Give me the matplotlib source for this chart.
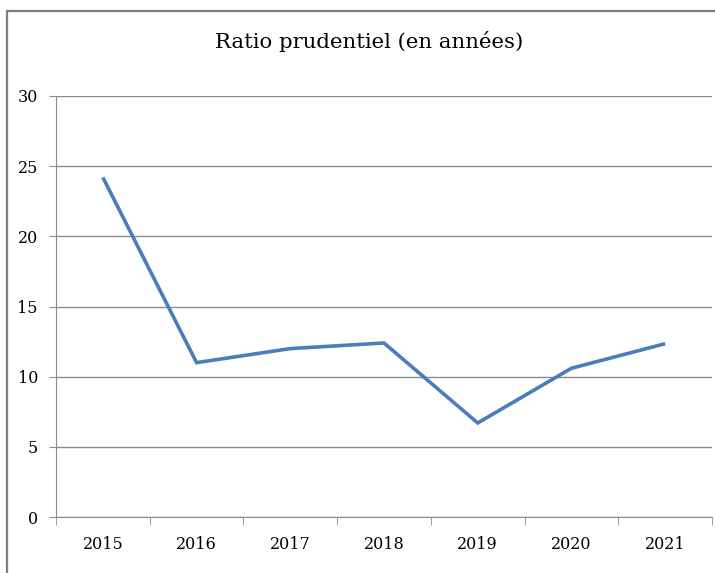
import matplotlib
matplotlib.use("Agg")
import matplotlib.pyplot as plt
from matplotlib.patches import Rectangle

annees = ['2015', '2016', '2017', '2018', '2019', '2020', '2021']
ratio = [24.2, 11.0, 12.0, 12.4, 6.7, 10.6, 12.35]
y_ticks = [0, 5, 10, 15, 20, 25, 30]

plt.rcParams['font.family'] = ['DejaVu Serif']

W, H = 715, 573
fig = plt.figure(figsize=(W / 100, H / 100), dpi=100)
fig.patch.set_facecolor('white')

# cadre du graphique
fig.patches.append(Rectangle((7 / W, -0.05), 1.1, 1 - 11 / H + 0.05,
                             transform=fig.transFigure, fill=False,
                             edgecolor='#7f7f7f', linewidth=1.6))

ax = fig.add_axes([56 / W, 1 - 517 / H, (712 - 56) / W, (517 - 96) / H])
x = list(range(len(annees)))
ax.plot(x, ratio, color='#4a7ebb', linewidth=2.6, solid_capstyle='butt',
        solid_joinstyle='miter')

ax.set_xlim(-0.5, len(annees) - 0.5)
ax.set_ylim(0, 30)
ax.set_yticks(y_ticks)
ax.set_yticklabels([str(v) for v in y_ticks], fontsize=11.5)
ax.set_xticks(x)
ax.set_xticklabels(annees, fontsize=11.5)
ax.set_xticks([i - 0.5 for i in range(len(annees) + 1)], minor=True)

ax.grid(axis='y', color='#8c8c8c', linewidth=1.0)
ax.set_axisbelow(True)
for s in ['top', 'right']:
    ax.spines[s].set_visible(False)
ax.spines['left'].set_color('#8c8c8c')
ax.spines['bottom'].set_color('#8c8c8c')

ax.tick_params(axis='y', length=5, color='#8c8c8c', pad=8)
ax.tick_params(axis='x', which='major', length=0, pad=14)
ax.tick_params(axis='x', which='minor', length=6, color='#8c8c8c')

fig.text(369 / W, 1 - 41 / H, 'Ratio prudentiel (en années)', ha='center',
         va='center', fontsize=15.3)

fig.savefig('out.png', dpi=100)
